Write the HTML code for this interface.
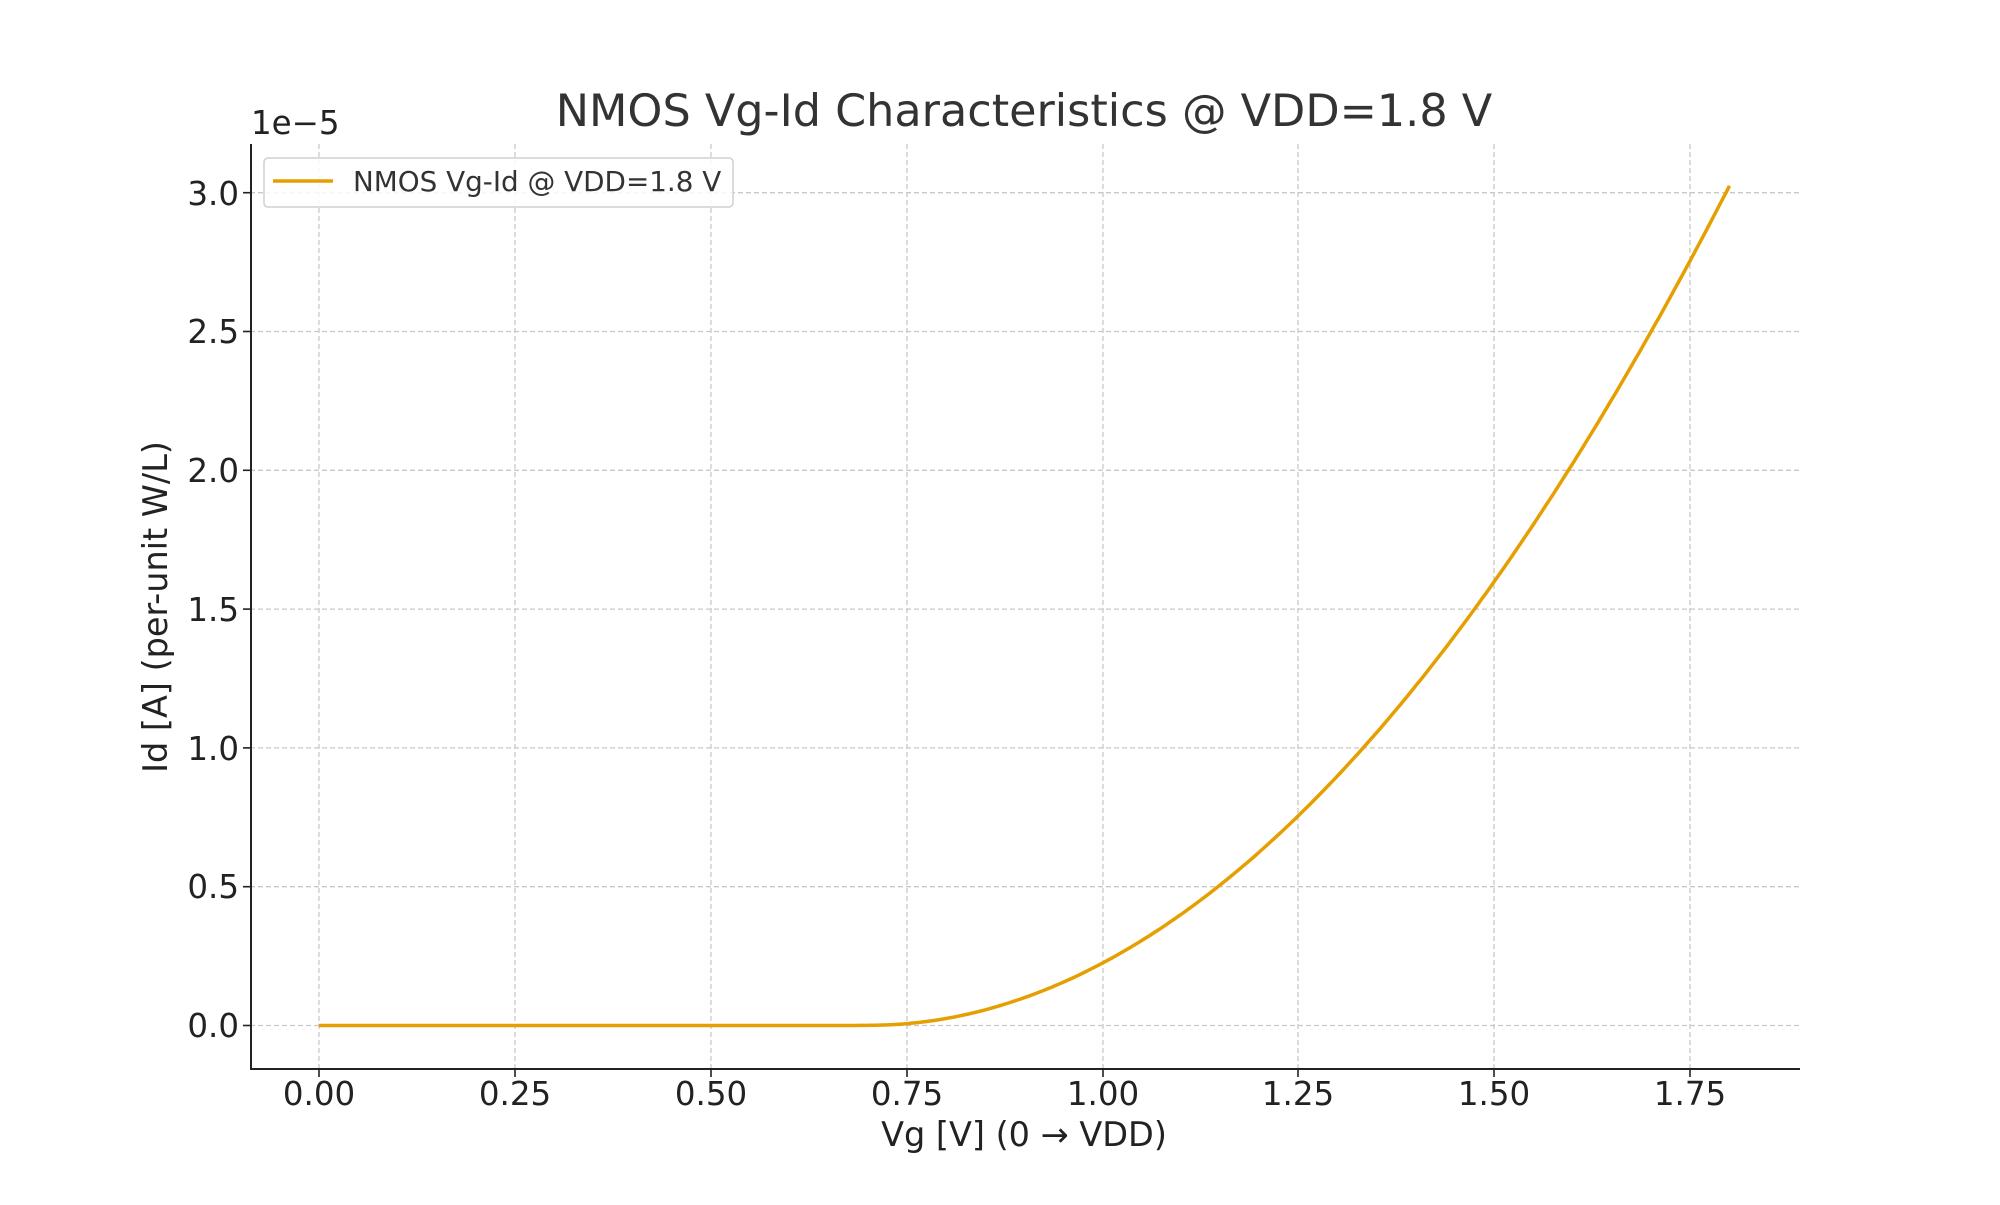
<!DOCTYPE html>
<html><head><meta charset="utf-8"><style>
html,body{margin:0;padding:0;background:#fff;}
svg text{font-family:"DejaVu Sans","Liberation Sans",sans-serif;fill:#222;}
</style></head><body>
<svg id="s" width="2000" height="1200" xmlns="http://www.w3.org/2000/svg">
<rect width="2000" height="1200" fill="#fff"/>
<g stroke="#c8c8c8" stroke-width="1.3" stroke-dasharray="5,3">
<line x1="319" y1="144" x2="319" y2="1069"/>
<line x1="515" y1="144" x2="515" y2="1069"/>
<line x1="711" y1="144" x2="711" y2="1069"/>
<line x1="907" y1="144" x2="907" y2="1069"/>
<line x1="1103" y1="144" x2="1103" y2="1069"/>
<line x1="1298" y1="144" x2="1298" y2="1069"/>
<line x1="1494" y1="144" x2="1494" y2="1069"/>
<line x1="1690" y1="144" x2="1690" y2="1069"/>
<line x1="250" y1="1025.5" x2="1800" y2="1025.5"/>
<line x1="250" y1="886.7" x2="1800" y2="886.7"/>
<line x1="250" y1="747.9" x2="1800" y2="747.9"/>
<line x1="250" y1="609.1" x2="1800" y2="609.1"/>
<line x1="250" y1="470.3" x2="1800" y2="470.3"/>
<line x1="250" y1="331.5" x2="1800" y2="331.5"/>
<line x1="250" y1="192.7" x2="1800" y2="192.7"/>
</g>
<g stroke="#222" stroke-width="2">
<line x1="251" y1="144" x2="251" y2="1069"/>
<line x1="250" y1="1069" x2="1800" y2="1069"/>
</g>
<g stroke="#222" stroke-width="1.6">
<line x1="319" y1="1069" x2="319" y2="1077"/><line x1="515" y1="1069" x2="515" y2="1077"/><line x1="711" y1="1069" x2="711" y2="1077"/><line x1="907" y1="1069" x2="907" y2="1077"/><line x1="1103" y1="1069" x2="1103" y2="1077"/><line x1="1298" y1="1069" x2="1298" y2="1077"/><line x1="1494" y1="1069" x2="1494" y2="1077"/><line x1="1690" y1="1069" x2="1690" y2="1077"/>
<line x1="243" y1="1025.5" x2="251" y2="1025.5"/><line x1="243" y1="886.7" x2="251" y2="886.7"/><line x1="243" y1="747.9" x2="251" y2="747.9"/><line x1="243" y1="609.1" x2="251" y2="609.1"/><line x1="243" y1="470.3" x2="251" y2="470.3"/><line x1="243" y1="331.5" x2="251" y2="331.5"/><line x1="243" y1="192.7" x2="251" y2="192.7"/>
</g>
<g font-size="32.5" text-anchor="middle">
<text x="319" y="1105">0.00</text><text x="515" y="1105">0.25</text><text x="711" y="1105">0.50</text><text x="907" y="1105">0.75</text><text x="1103" y="1105">1.00</text><text x="1298" y="1105">1.25</text><text x="1494" y="1105">1.50</text><text x="1690" y="1105">1.75</text>
</g>
<g font-size="32.5" text-anchor="end">
<text x="239" y="1037">0.0</text><text x="239" y="898">0.5</text><text x="239" y="760">1.0</text><text x="239" y="621">1.5</text><text x="239" y="482">2.0</text><text x="239" y="343">2.5</text><text x="239" y="205">3.0</text>
</g>
<text x="251" y="134" font-size="32.5">1e−5</text>
<text x="1024" y="126" font-size="44.5" text-anchor="middle" style="fill:#333">NMOS Vg-Id Characteristics @ VDD=1.8 V</text>
<text x="1024" y="1146" font-size="33.5" text-anchor="middle">Vg [V] (0 → VDD)</text>
<text transform="translate(167,607) rotate(-90)" font-size="33.5" text-anchor="middle">Id [A] (per-unit W/L)</text>
<path id="c" fill="none" stroke="#e69f00" stroke-width="3.5"/>
<rect x="264" y="158" width="469" height="49" rx="4" fill="#fff" fill-opacity="0.85" stroke="#d0d0d0" stroke-width="1.5"/>
<line x1="273" y1="181" x2="333" y2="181" stroke="#e69f00" stroke-width="3.5"/>
<text x="353" y="191" font-size="27.8" style="fill:#333">NMOS Vg-Id @ VDD=1.8 V</text>
</svg>
<script>
var d="";for(var i=0;i<=360;i++){var v=i*1.8/360;var x=v-0.7;
var n=0.02,s=n*Math.log(1+Math.exp(x/n));var id=2.5*s*s;
var X=319+783.6*v,Y=1025.5-277.6*id;d+=(i?"L":"M")+X.toFixed(1)+","+Y.toFixed(1);}
document.getElementById("c").setAttribute("d",d);
</script>
</body></html>
